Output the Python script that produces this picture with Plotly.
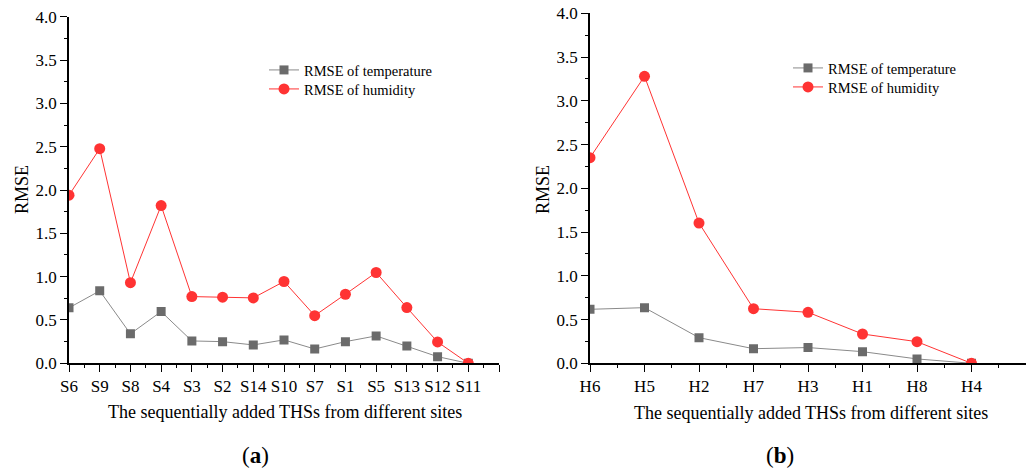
import plotly.graph_objects as go

# ---- data ----
sites_a = ["S6", "S9", "S8", "S4", "S3", "S2", "S14", "S10", "S7", "S1", "S5", "S13", "S12", "S11"]
temp_a = [0.64, 0.836, 0.34, 0.597, 0.258, 0.25, 0.212, 0.27, 0.165, 0.25, 0.316, 0.20, 0.077, 0.0]
hum_a = [1.94, 2.477, 0.93, 1.82, 0.77, 0.763, 0.755, 0.944, 0.55, 0.797, 1.048, 0.643, 0.246, 0.0]

sites_b = ["H6", "H5", "H2", "H7", "H3", "H1", "H8", "H4"]
temp_b = [0.617, 0.636, 0.293, 0.167, 0.18, 0.133, 0.05, 0.0]
hum_b = [2.35, 3.28, 1.603, 0.624, 0.583, 0.335, 0.247, 0.0]

y_ticks = [0.0, 0.5, 1.0, 1.5, 2.0, 2.5, 3.0, 3.5, 4.0]
x_title = "The sequentially added THSs from different sites"
y_title = "RMSE"
name_t = "RMSE of temperature"
name_h = "RMSE of humidity"

# page is offset by the 8px body margin
OFF = 8
W, H = 1034 - OFF, 472 - OFF
FONT = "Liberation Serif, Times New Roman, DejaVu Serif, serif"
GRAY = "#6b6b6b"
GRAY_LINE = "#8a8a8a"
RED = "#ff3333"


def px_x(p):
    return (p - OFF) / W


def px_y(p):
    return (H - (p - OFF)) / H


fig = go.Figure()


def add_panel(sites, temp, hum, xa, ya, lg_t, lg_h):
    idx = list(range(len(sites)))
    fig.add_trace(go.Scatter(x=idx, y=temp, mode="lines+markers", name=name_t,
                             line=dict(color=GRAY_LINE, width=1),
                             marker=dict(symbol="square", size=9, color=GRAY),
                             xaxis=xa, yaxis=ya, legend=lg_t))
    fig.add_trace(go.Scatter(x=idx, y=hum, mode="lines+markers", name=name_h,
                             line=dict(color=RED, width=1),
                             marker=dict(symbol="circle", size=11, color=RED),
                             xaxis=xa, yaxis=ya, legend=lg_h))


add_panel(sites_a, temp_a, hum_a, "x", "y", "legend", "legend2")
add_panel(sites_b, temp_b, hum_b, "x2", "y2", "legend3", "legend4")


def xaxis_cfg(sites, dom):
    n = len(sites)
    return dict(domain=dom, range=[0, n], tickmode="array",
                tickvals=list(range(n + 1)), ticktext=sites + [""],
                ticks="outside", ticklen=7, tickwidth=1.3, tickcolor="black",
                showline=True, linecolor="black", linewidth=1.5,
                showgrid=False, zeroline=False, automargin=False,
                ticklabeloverflow="allow",
                tickfont=dict(family=FONT, size=17, color="black"),
                minor=dict(ticks="outside", ticklen=3, tickwidth=1.2, tickcolor="black",
                           tickmode="linear", tick0=0.5, dtick=1, showgrid=False),
                fixedrange=True)


def yaxis_cfg(dom, anchor):
    return dict(domain=dom, range=[0, 4], tickmode="array", tickvals=y_ticks,
                ticktext=[f"{v:.1f}" for v in y_ticks], anchor=anchor,
                ticks="outside", ticklen=7, tickwidth=1.3, tickcolor="black",
                showline=True, linecolor="black", linewidth=1.5,
                showgrid=False, zeroline=False, automargin=False,
                ticklabeloverflow="allow",
                tickfont=dict(family=FONT, size=17, color="black"),
                minor=dict(ticks="outside", ticklen=3, tickwidth=1.2, tickcolor="black",
                           tickmode="linear", tick0=0.25, dtick=0.5, showgrid=False),
                fixedrange=True)


def legend_cfg(xtext, yrow):
    return dict(x=px_x(xtext - 40), y=px_y(yrow), xanchor="left", yanchor="middle",
                bgcolor="rgba(0,0,0,0)",
                font=dict(family=FONT, size=14.5, color="black"),
                tracegroupgap=0, itemwidth=30)


fig.update_layout(
    width=W, height=H, template="none",
    margin=dict(l=0, r=0, t=0, b=0),
    paper_bgcolor="white", plot_bgcolor="white",
    font=dict(family=FONT, color="black"),
    xaxis=dict(**xaxis_cfg(sites_a, [px_x(69), px_x(499)]), anchor="y"),
    yaxis=yaxis_cfg([px_y(363.3), px_y(16.7)], "x"),
    xaxis2=dict(**xaxis_cfg(sites_b, [px_x(590), px_x(1026)]), anchor="y2"),
    yaxis2=yaxis_cfg([px_y(363.3), px_y(13.3)], "x2"),
    legend=legend_cfg(304, 70),
    legend2=legend_cfg(304, 89),
    legend3=legend_cfg(828, 68),
    legend4=legend_cfg(828, 87),
    showlegend=True,
)

ann = [
    dict(text=y_title, x=px_x(22), y=px_y(190), textangle=-90),
    dict(text=y_title, x=px_x(543), y=px_y(190), textangle=-90),
    dict(text=x_title, x=px_x(285), y=px_y(412)),
    dict(text=x_title, x=px_x(811), y=px_y(413)),
]
for a in ann:
    fig.add_annotation(xref="paper", yref="paper", showarrow=False,
                       xanchor="center", yanchor="middle",
                       font=dict(family=FONT, size=18, color="black"), **a)

for lab, xc in [("a", 255), ("b", 780)]:
    fig.add_annotation(xref="paper", yref="paper", showarrow=False,
                       x=px_x(xc), y=px_y(455), xanchor="center", yanchor="middle",
                       text=f"(<b>{lab}</b>)",
                       font=dict(family=FONT, size=23, color="black"))

fig.write_html("out.html")
